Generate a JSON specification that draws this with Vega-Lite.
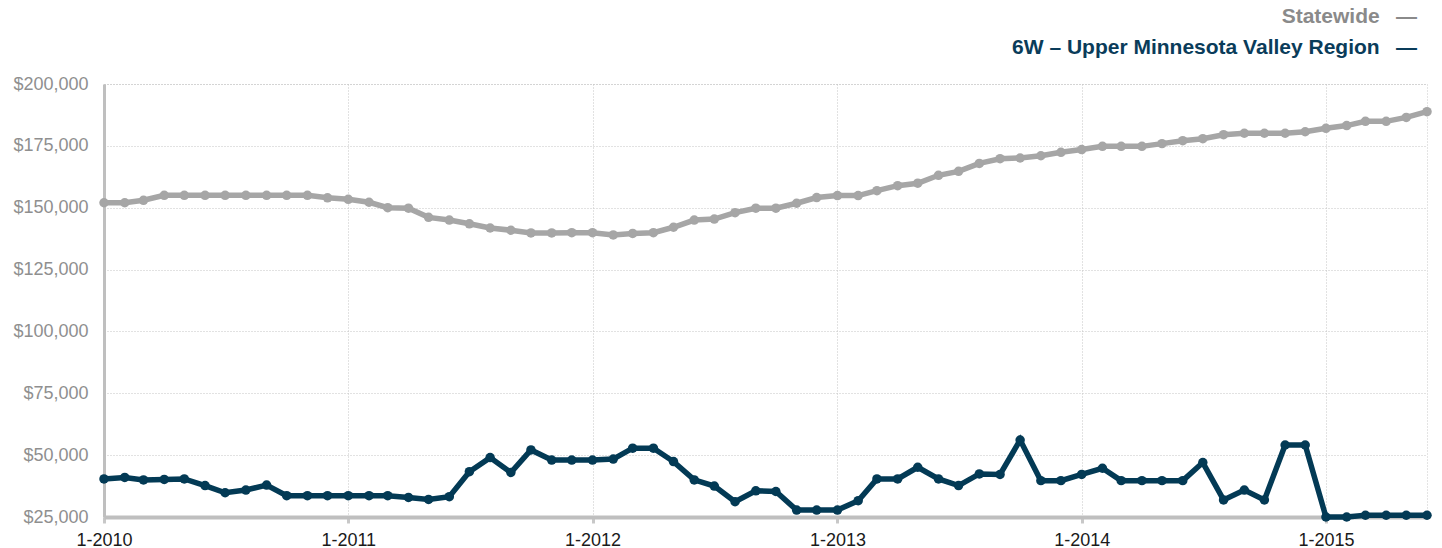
{
  "$schema": "https://vega.github.io/schema/vega-lite/v6.json",
  "width": 1323,
  "height": 433,
  "autosize": {"type": "none"},
  "padding": {"left": 104, "top": 84, "right": 15, "bottom": 31},
  "background": "white",
  "title": {
    "text": "Statewide\u2002 \u2014",
    "subtitle": "6W \u2013 Upper Minnesota Valley Region\u2002 \u2014",
    "anchor": "end",
    "frame": "group",
    "dx": -10,
    "offset": 17,
    "font": "Liberation Sans",
    "fontSize": 21,
    "fontWeight": "bold",
    "color": "#8a8a8a",
    "subtitleFont": "Liberation Sans",
    "subtitleFontSize": 21,
    "subtitleFontWeight": "bold",
    "subtitleColor": "#0a3c5a",
    "subtitlePadding": 10
  },
  "config": {
    "view": {"stroke": "#c8c8c8", "strokeDash": [1, 2], "strokeWidth": 1},
    "font": "Liberation Sans"
  },
  "data": {
    "values": [
      {"date": "2010-01-01", "series": "Statewide", "price": 152000},
      {"date": "2010-02-01", "series": "Statewide", "price": 152000},
      {"date": "2010-03-01", "series": "Statewide", "price": 153000},
      {"date": "2010-04-01", "series": "Statewide", "price": 155000},
      {"date": "2010-05-01", "series": "Statewide", "price": 155000},
      {"date": "2010-06-01", "series": "Statewide", "price": 155000},
      {"date": "2010-07-01", "series": "Statewide", "price": 155000},
      {"date": "2010-08-01", "series": "Statewide", "price": 155000},
      {"date": "2010-09-01", "series": "Statewide", "price": 155000},
      {"date": "2010-10-01", "series": "Statewide", "price": 155000},
      {"date": "2010-11-01", "series": "Statewide", "price": 155000},
      {"date": "2010-12-01", "series": "Statewide", "price": 154000},
      {"date": "2011-01-01", "series": "Statewide", "price": 153400},
      {"date": "2011-02-01", "series": "Statewide", "price": 152200},
      {"date": "2011-03-01", "series": "Statewide", "price": 150000},
      {"date": "2011-04-01", "series": "Statewide", "price": 149800},
      {"date": "2011-05-01", "series": "Statewide", "price": 146100},
      {"date": "2011-06-01", "series": "Statewide", "price": 145000},
      {"date": "2011-07-01", "series": "Statewide", "price": 143500},
      {"date": "2011-08-01", "series": "Statewide", "price": 141800},
      {"date": "2011-09-01", "series": "Statewide", "price": 140900},
      {"date": "2011-10-01", "series": "Statewide", "price": 139800},
      {"date": "2011-11-01", "series": "Statewide", "price": 139800},
      {"date": "2011-12-01", "series": "Statewide", "price": 139900},
      {"date": "2012-01-01", "series": "Statewide", "price": 139900},
      {"date": "2012-02-01", "series": "Statewide", "price": 139000},
      {"date": "2012-03-01", "series": "Statewide", "price": 139600},
      {"date": "2012-04-01", "series": "Statewide", "price": 139900},
      {"date": "2012-05-01", "series": "Statewide", "price": 142100},
      {"date": "2012-06-01", "series": "Statewide", "price": 145000},
      {"date": "2012-07-01", "series": "Statewide", "price": 145400},
      {"date": "2012-08-01", "series": "Statewide", "price": 148000},
      {"date": "2012-09-01", "series": "Statewide", "price": 149800},
      {"date": "2012-10-01", "series": "Statewide", "price": 149800},
      {"date": "2012-11-01", "series": "Statewide", "price": 151800},
      {"date": "2012-12-01", "series": "Statewide", "price": 154100},
      {"date": "2013-01-01", "series": "Statewide", "price": 154900},
      {"date": "2013-02-01", "series": "Statewide", "price": 154900},
      {"date": "2013-03-01", "series": "Statewide", "price": 156900},
      {"date": "2013-04-01", "series": "Statewide", "price": 158900},
      {"date": "2013-05-01", "series": "Statewide", "price": 159900},
      {"date": "2013-06-01", "series": "Statewide", "price": 163100},
      {"date": "2013-07-01", "series": "Statewide", "price": 164700},
      {"date": "2013-08-01", "series": "Statewide", "price": 167900},
      {"date": "2013-09-01", "series": "Statewide", "price": 169800},
      {"date": "2013-10-01", "series": "Statewide", "price": 170100},
      {"date": "2013-11-01", "series": "Statewide", "price": 171000},
      {"date": "2013-12-01", "series": "Statewide", "price": 172400},
      {"date": "2014-01-01", "series": "Statewide", "price": 173500},
      {"date": "2014-02-01", "series": "Statewide", "price": 174800},
      {"date": "2014-03-01", "series": "Statewide", "price": 174800},
      {"date": "2014-04-01", "series": "Statewide", "price": 174800},
      {"date": "2014-05-01", "series": "Statewide", "price": 175900},
      {"date": "2014-06-01", "series": "Statewide", "price": 177100},
      {"date": "2014-07-01", "series": "Statewide", "price": 177900},
      {"date": "2014-08-01", "series": "Statewide", "price": 179500},
      {"date": "2014-09-01", "series": "Statewide", "price": 180100},
      {"date": "2014-10-01", "series": "Statewide", "price": 180100},
      {"date": "2014-11-01", "series": "Statewide", "price": 180100},
      {"date": "2014-12-01", "series": "Statewide", "price": 180700},
      {"date": "2015-01-01", "series": "Statewide", "price": 182100},
      {"date": "2015-02-01", "series": "Statewide", "price": 183200},
      {"date": "2015-03-01", "series": "Statewide", "price": 184900},
      {"date": "2015-04-01", "series": "Statewide", "price": 184900},
      {"date": "2015-05-01", "series": "Statewide", "price": 186500},
      {"date": "2015-06-01", "series": "Statewide", "price": 188800},
      {"date": "2010-01-01", "series": "6W \u2013 Upper Minnesota Valley Region", "price": 40400},
      {"date": "2010-02-01", "series": "6W \u2013 Upper Minnesota Valley Region", "price": 41000},
      {"date": "2010-03-01", "series": "6W \u2013 Upper Minnesota Valley Region", "price": 40000},
      {"date": "2010-04-01", "series": "6W \u2013 Upper Minnesota Valley Region", "price": 40200},
      {"date": "2010-05-01", "series": "6W \u2013 Upper Minnesota Valley Region", "price": 40400},
      {"date": "2010-06-01", "series": "6W \u2013 Upper Minnesota Valley Region", "price": 37700},
      {"date": "2010-07-01", "series": "6W \u2013 Upper Minnesota Valley Region", "price": 34800},
      {"date": "2010-08-01", "series": "6W \u2013 Upper Minnesota Valley Region", "price": 35900},
      {"date": "2010-09-01", "series": "6W \u2013 Upper Minnesota Valley Region", "price": 37900},
      {"date": "2010-10-01", "series": "6W \u2013 Upper Minnesota Valley Region", "price": 33600},
      {"date": "2010-11-01", "series": "6W \u2013 Upper Minnesota Valley Region", "price": 33600},
      {"date": "2010-12-01", "series": "6W \u2013 Upper Minnesota Valley Region", "price": 33600},
      {"date": "2011-01-01", "series": "6W \u2013 Upper Minnesota Valley Region", "price": 33600},
      {"date": "2011-02-01", "series": "6W \u2013 Upper Minnesota Valley Region", "price": 33600},
      {"date": "2011-03-01", "series": "6W \u2013 Upper Minnesota Valley Region", "price": 33600},
      {"date": "2011-04-01", "series": "6W \u2013 Upper Minnesota Valley Region", "price": 32900},
      {"date": "2011-05-01", "series": "6W \u2013 Upper Minnesota Valley Region", "price": 32100},
      {"date": "2011-06-01", "series": "6W \u2013 Upper Minnesota Valley Region", "price": 33200},
      {"date": "2011-07-01", "series": "6W \u2013 Upper Minnesota Valley Region", "price": 43300},
      {"date": "2011-08-01", "series": "6W \u2013 Upper Minnesota Valley Region", "price": 49000},
      {"date": "2011-09-01", "series": "6W \u2013 Upper Minnesota Valley Region", "price": 43000},
      {"date": "2011-10-01", "series": "6W \u2013 Upper Minnesota Valley Region", "price": 52100},
      {"date": "2011-11-01", "series": "6W \u2013 Upper Minnesota Valley Region", "price": 48000},
      {"date": "2011-12-01", "series": "6W \u2013 Upper Minnesota Valley Region", "price": 48000},
      {"date": "2012-01-01", "series": "6W \u2013 Upper Minnesota Valley Region", "price": 48000},
      {"date": "2012-02-01", "series": "6W \u2013 Upper Minnesota Valley Region", "price": 48400},
      {"date": "2012-03-01", "series": "6W \u2013 Upper Minnesota Valley Region", "price": 52800},
      {"date": "2012-04-01", "series": "6W \u2013 Upper Minnesota Valley Region", "price": 52800},
      {"date": "2012-05-01", "series": "6W \u2013 Upper Minnesota Valley Region", "price": 47400},
      {"date": "2012-06-01", "series": "6W \u2013 Upper Minnesota Valley Region", "price": 40000},
      {"date": "2012-07-01", "series": "6W \u2013 Upper Minnesota Valley Region", "price": 37500},
      {"date": "2012-08-01", "series": "6W \u2013 Upper Minnesota Valley Region", "price": 31200},
      {"date": "2012-09-01", "series": "6W \u2013 Upper Minnesota Valley Region", "price": 35600},
      {"date": "2012-10-01", "series": "6W \u2013 Upper Minnesota Valley Region", "price": 35300},
      {"date": "2012-11-01", "series": "6W \u2013 Upper Minnesota Valley Region", "price": 27800},
      {"date": "2012-12-01", "series": "6W \u2013 Upper Minnesota Valley Region", "price": 27800},
      {"date": "2013-01-01", "series": "6W \u2013 Upper Minnesota Valley Region", "price": 27800},
      {"date": "2013-02-01", "series": "6W \u2013 Upper Minnesota Valley Region", "price": 31600},
      {"date": "2013-03-01", "series": "6W \u2013 Upper Minnesota Valley Region", "price": 40400},
      {"date": "2013-04-01", "series": "6W \u2013 Upper Minnesota Valley Region", "price": 40400},
      {"date": "2013-05-01", "series": "6W \u2013 Upper Minnesota Valley Region", "price": 45100},
      {"date": "2013-06-01", "series": "6W \u2013 Upper Minnesota Valley Region", "price": 40400},
      {"date": "2013-07-01", "series": "6W \u2013 Upper Minnesota Valley Region", "price": 37700},
      {"date": "2013-08-01", "series": "6W \u2013 Upper Minnesota Valley Region", "price": 42400},
      {"date": "2013-09-01", "series": "6W \u2013 Upper Minnesota Valley Region", "price": 42200},
      {"date": "2013-10-01", "series": "6W \u2013 Upper Minnesota Valley Region", "price": 56100},
      {"date": "2013-11-01", "series": "6W \u2013 Upper Minnesota Valley Region", "price": 39700},
      {"date": "2013-12-01", "series": "6W \u2013 Upper Minnesota Valley Region", "price": 39700},
      {"date": "2014-01-01", "series": "6W \u2013 Upper Minnesota Valley Region", "price": 42200},
      {"date": "2014-02-01", "series": "6W \u2013 Upper Minnesota Valley Region", "price": 44700},
      {"date": "2014-03-01", "series": "6W \u2013 Upper Minnesota Valley Region", "price": 39700},
      {"date": "2014-04-01", "series": "6W \u2013 Upper Minnesota Valley Region", "price": 39700},
      {"date": "2014-05-01", "series": "6W \u2013 Upper Minnesota Valley Region", "price": 39700},
      {"date": "2014-06-01", "series": "6W \u2013 Upper Minnesota Valley Region", "price": 39700},
      {"date": "2014-07-01", "series": "6W \u2013 Upper Minnesota Valley Region", "price": 47000},
      {"date": "2014-08-01", "series": "6W \u2013 Upper Minnesota Valley Region", "price": 31900},
      {"date": "2014-09-01", "series": "6W \u2013 Upper Minnesota Valley Region", "price": 35900},
      {"date": "2014-10-01", "series": "6W \u2013 Upper Minnesota Valley Region", "price": 31900},
      {"date": "2014-11-01", "series": "6W \u2013 Upper Minnesota Valley Region", "price": 54100},
      {"date": "2014-12-01", "series": "6W \u2013 Upper Minnesota Valley Region", "price": 54100},
      {"date": "2015-01-01", "series": "6W \u2013 Upper Minnesota Valley Region", "price": 25000},
      {"date": "2015-02-01", "series": "6W \u2013 Upper Minnesota Valley Region", "price": 25000},
      {"date": "2015-03-01", "series": "6W \u2013 Upper Minnesota Valley Region", "price": 25700},
      {"date": "2015-04-01", "series": "6W \u2013 Upper Minnesota Valley Region", "price": 25700},
      {"date": "2015-05-01", "series": "6W \u2013 Upper Minnesota Valley Region", "price": 25700},
      {"date": "2015-06-01", "series": "6W \u2013 Upper Minnesota Valley Region", "price": 25700}
    ]
  },
  "mark": {"type": "line", "strokeWidth": 5.5, "point": {"filled": true, "size": 90, "opacity": 1}},
  "encoding": {
    "x": {
      "field": "date",
      "type": "temporal",
      "scale": {"domain": ["2010-01-01", "2015-06-01"]},
      "axis": {
        "title": null,
        "format": "%-m-%Y",
        "tickCount": {"interval": "year", "step": 1},
        "labelFlush": false,
        "labelFontSize": 18,
        "labelColor": "#1a1a1a",
        "labelPadding": 8,
        "tickSize": 6,
        "tickWidth": 3,
        "tickColor": "#c8c8c8",
        "domainColor": "#bfbfbf",
        "domainWidth": 4,
        "gridColor": "#c4c4c4",
        "gridDash": [1, 2],
        "gridWidth": 1
      }
    },
    "y": {
      "field": "price",
      "type": "quantitative",
      "scale": {"domain": [25000, 200000], "nice": false, "zero": false},
      "axis": {
        "title": null,
        "format": "$,.0f",
        "values": [25000, 50000, 75000, 100000, 125000, 150000, 175000, 200000],
        "labelFontSize": 18,
        "labelColor": "#8f8f8f",
        "ticks": false,
        "labelPadding": 16,
        "domainColor": "#bfbfbf",
        "domainWidth": 3,
        "gridColor": "#c4c4c4",
        "gridDash": [1, 2],
        "gridWidth": 1
      }
    },
    "color": {
      "field": "series",
      "type": "nominal",
      "scale": {"domain": ["Statewide", "6W \u2013 Upper Minnesota Valley Region"], "range": ["#a6a6a6", "#033a55"]},
      "legend": null
    }
  }
}
